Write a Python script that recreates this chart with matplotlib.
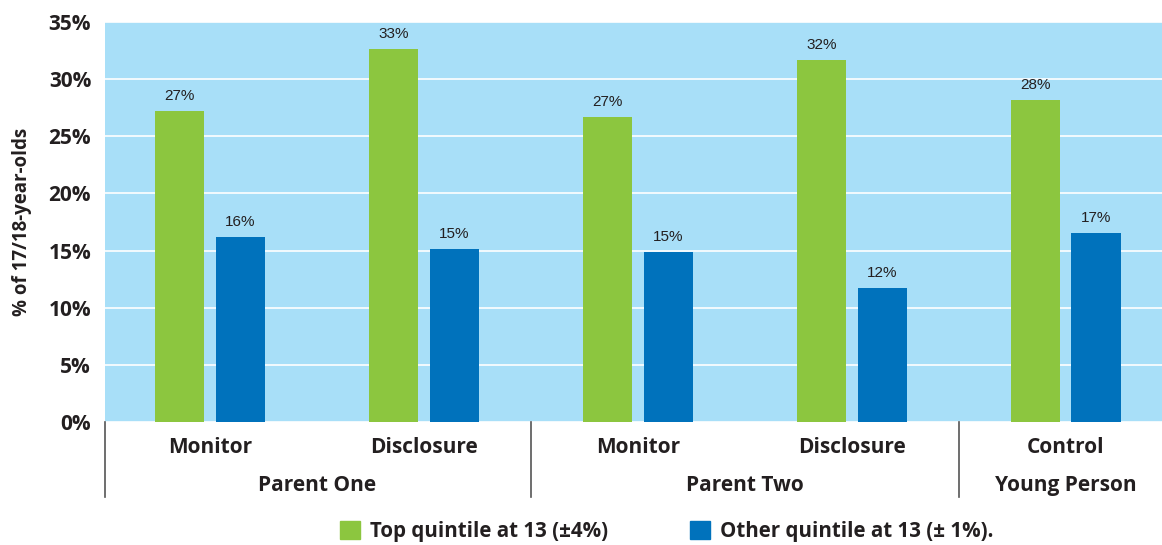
import matplotlib
matplotlib.use('Agg')
import numpy as np
import matplotlib.pyplot as plt
from matplotlib.patches import Patch

# data
categories = ['Monitor', 'Disclosure', 'Monitor', 'Disclosure', 'Control']
groups = ['Parent One', 'Parent Two', 'Young Person']
group_centers = [0.5, 2.5, 4.0]
separators = [-0.49, 1.5, 3.5]
top_quintile = [27.2, 32.6, 26.7, 31.7, 28.2]
other_quintile = [16.2, 15.1, 14.9, 11.7, 16.5]
top_labels = ['27%', '33%', '27%', '32%', '28%']
other_labels = ['16%', '15%', '15%', '12%', '17%']
series_names = ['Top quintile at 13 (\u00b14%)', 'Other quintile at 13 (\u00b1 1%).']

green = '#8cc63f'
blue = '#0072bc'
bg = '#a8dff8'
txt = '#231f20'

plt.rcParams['font.family'] = ['Open Sans', 'DejaVu Sans']

fig = plt.figure(figsize=(11.62, 5.45), dpi=100)
ax = fig.add_axes([0.0904, 0.2257, 0.9096, 0.7339])
ax.set_facecolor(bg)

x = np.arange(len(categories))
w = 0.23
off = 0.142
b1 = ax.bar(x - off, top_quintile, w, color=green, zorder=3)
b2 = ax.bar(x + off, other_quintile, w, color=blue, zorder=3)

for bars, labs in ((b1, top_labels), (b2, other_labels)):
    for rect, lab in zip(bars, labs):
        ax.text(rect.get_x() + rect.get_width() / 2, rect.get_height() + 0.7, lab,
                ha='center', va='bottom', fontsize=11, color=txt,
                family='Liberation Sans')

ax.set_ylim(0, 35)
ax.set_xlim(-0.49, 4.45)
ax.set_yticks(np.arange(0, 36, 5))
ax.set_yticklabels(['%d%%' % v for v in range(0, 36, 5)], fontsize=15,
                   fontweight='bold', color=txt)
ax.yaxis.grid(True, color='white', linewidth=1.2, zorder=1)
ax.set_axisbelow(True)
ax.tick_params(axis='y', length=0, pad=10)
ax.tick_params(axis='x', length=0)
ax.set_xticks([])
for s in ax.spines.values():
    s.set_visible(False)

ax.set_ylabel('% of 17/18-year-olds', fontsize=13.5, fontweight='bold',
              color=txt, labelpad=12)

trans = ax.get_xaxis_transform()
for i, c in enumerate(categories):
    ax.text(i, -0.065, c, transform=trans, ha='center', va='center',
            fontsize=15, fontweight='bold', color=txt)
for gx, g in zip(group_centers, groups):
    ax.text(gx, -0.16, g, transform=trans, ha='center', va='center',
            fontsize=15, fontweight='bold', color=txt)
for sx in separators:
    ax.plot([sx, sx], [0, -0.1875], transform=trans, color='#555555',
            linewidth=1.2, clip_on=False)

handles = [Patch(color=green), Patch(color=blue)]
fig.legend(handles, series_names, loc='center', bbox_to_anchor=(0.574, 0.024),
           ncol=2, frameon=False, handlelength=0.95, handleheight=0.95,
           handletextpad=0.5, columnspacing=4.0,
           prop={'size': 14.8, 'weight': 'bold'}, labelcolor=txt)

fig.savefig('out.png', dpi=100)
